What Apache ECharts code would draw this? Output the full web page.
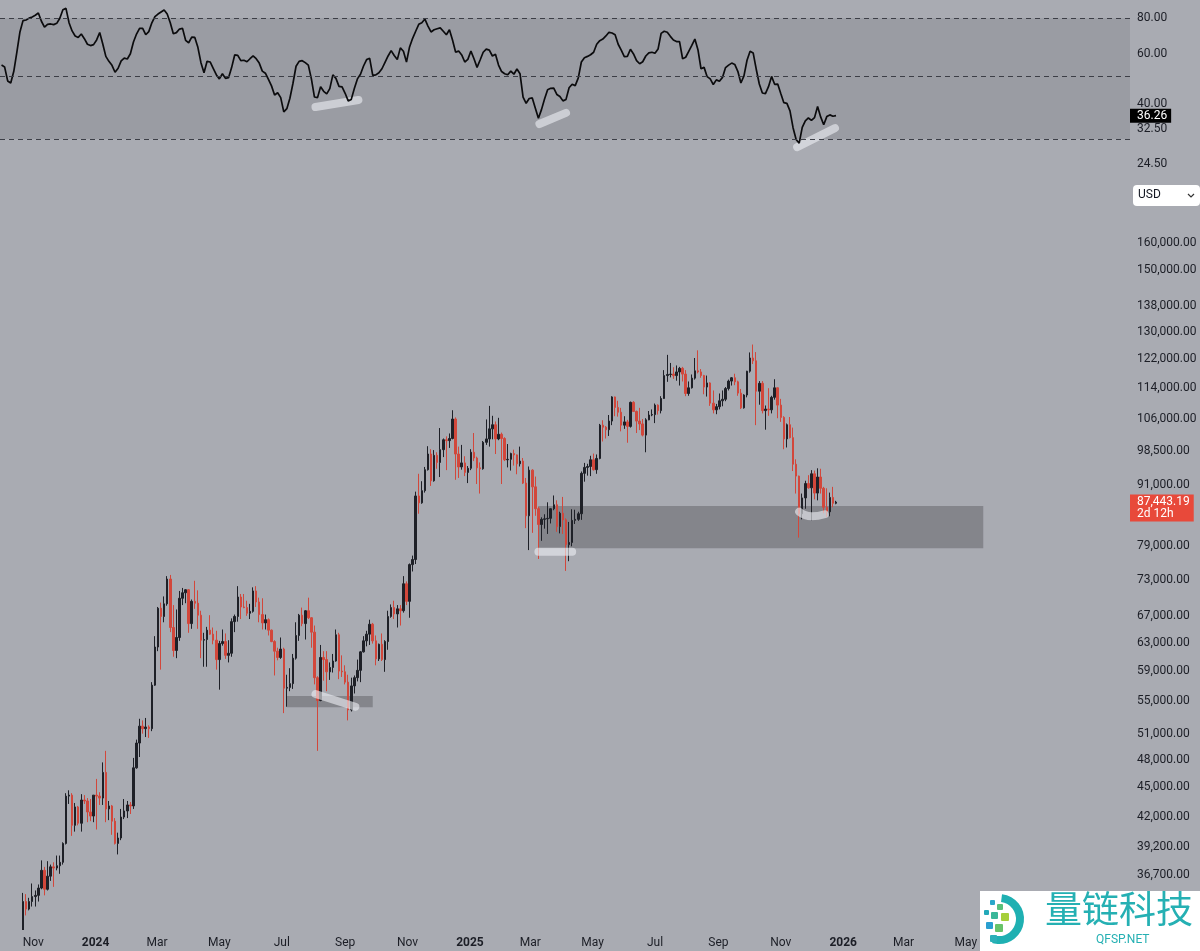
<!DOCTYPE html>
<html>
<head>
<meta charset="utf-8">
<script src="https://cdn.jsdelivr.net/npm/echarts@6/dist/echarts.min.js"></script>
<style>
html,body{margin:0;padding:0;background:#a9abb2;}
#chart{width:1200px;height:951px;}
</style>
</head>
<body>
<div id="chart"></div>
<script>
// ---------------- DATA ----------------
const axisStart = '2023-09-30';
const axisEnd = '2026-10-08';
const firstCandle = '2023-10-01';
const candleStepDays = 3;
const monthNames = ['Jan','Feb','Mar','Apr','May','Jun','Jul','Aug','Sep','Oct','Nov','Dec'];

// 3-day candles: [open, close, low, high]
const ohlc = [
[26970,27420,26950,28580],[27420,27950,27200,28250],[27950,27600,27300,28000],[27600,26750,26550,27700],[26750,27150,26650,27250],
[27150,28400,27100,30000],[28400,29900,28300,30200],[29900,34500,29700,35200],[34500,33900,33400,35100],[33900,34500,33800,34800],
[34500,34900,34100,35980],[34900,35000,34100,35400],[35000,35600,34500,35900],[35600,37100,35500,37970],[37100,35500,35000,37400],
[35500,36600,35400,37900],[36600,37400,36200,37600],[37400,37300,35700,37800],[37300,37500,37100,38400],[37500,37800,36800,38400],
[37800,39500,37600,39600],[39500,44100,39400,44400],[44100,44200,43300,44700],[44200,41200,40200,44400],[41200,43000,40600,43400],
[43000,41400,41200,43100],[41400,43700,40600,44300],[43700,43600,43300,44200],[43600,42500,41500,43900],[42500,42100,41600,43800],
[42100,44200,41500,44200],[44200,44100,40800,45900],[44100,43900,43200,44500],[43900,46600,43200,47700],[46600,42800,41500,49000],
[42800,43100,41700,43600],[43100,41600,40300,43200],[41600,39500,39400,41900],[39500,40000,38500,40500],[40000,42000,39800,42800],
[42000,42600,41800,43800],[42600,43200,41900,43600],[43200,43100,42300,43500],[43100,47100,42800,48200],[47100,49900,47000,50300],
[49900,51900,48300,52800],[51900,51600,51000,52600],[51600,51800,50600,52900],[51800,51600,50500,52000],[51600,57100,51300,57500],
[57100,62400,57000,64000],[62400,68300,61800,68500],[68300,67000,59200,69200],[67000,69000,66100,70200],[69000,73100,68700,73600],
[73100,65300,64600,73800],[65300,61900,61000,68800],[61900,63800,60800,68100],[63800,69900,63300,71100],[69900,70800,68800,71600],
[70800,71300,69100,71400],[71300,65900,64500,71400],[65900,69400,65100,69700],[69400,69100,68200,72800],[69100,67200,65100,71200],
[67200,63400,60800,67900],[63400,63500,59600,64500],[63500,64900,59600,65400],[64900,64300,64200,67200],[64300,63400,62800,65300],
[63400,60600,59200,64800],[60600,62900,56500,63300],[62900,63200,62600,65000],[63200,61200,60700,64400],[61200,61500,60200,63400],
[61500,66200,61000,66700],[66200,67000,64600,67300],[67000,70100,66200,71900],[70100,68500,66600,70600],[68500,68400,68300,70600],
[68400,67500,67100,69500],[67500,67800,66600,69000],[67800,71100,67600,71700],[71100,69300,68500,71900],[69300,67300,66100,70000],
[67300,66000,65000,69900],[66000,66500,65000,67300],[66500,64900,64100,66700],[64900,63200,63100,65000],[63200,61800,58400,63400],
[61800,60900,60500,62300],[60900,62100,60700,63800],[62100,56700,53500,62300],[56700,56800,54300,58500],[56800,57300,56300,59400],
[57300,60800,56600,61400],[60800,64100,60600,66100],[64100,67200,63300,67400],[67200,65900,65500,68400],[65900,67900,63500,68000],
[67900,66800,66600,70000],[66800,64600,62300,66900],[64600,58100,57200,65600],[58100,55100,49000,58300],[55100,60900,55000,62700],
[60900,60600,57700,61800],[60600,58900,56300,61800],[58900,59500,57800,60200],[59500,60400,58800,61400],[60400,64200,60300,65000],
[64200,59000,57900,64500],[59000,58900,58200,61200],[58900,57500,57200,59800],[57500,53900,52600,58500],[53900,57000,53700,58100],
[57000,58100,56000,58400],[58100,59100,57600,60600],[59100,61700,57500,61800],[61700,63300,61600,64000],[63300,64300,62500,64800],
[64300,65800,62700,66500],[65800,63300,62900,66000],[63300,60700,59800,64100],[60700,62800,60400,62900],[62800,60600,60400,64400],
[60600,63200,58900,63400],[63200,67000,62000,67900],[67000,68400,66800,68900],[68400,67400,66600,69500],[67400,68200,65300,68800],
[68200,67900,65600,68800],[67900,72300,67600,73600],[72300,69400,68800,72700],[69400,75600,66800,75800],[75600,76500,74400,77200],
[76500,88700,75700,89600],[88700,87300,85100,93400],[87300,89800,87100,91800],[89800,94300,89400,94900],[94300,97800,94100,99600],
[97800,91900,90800,98900],[91900,97500,91700,98700],[97500,95900,94500,98200],[95900,98800,92700,103900],[98800,101100,97100,101400],
[101100,100900,94200,101900],[100900,101400,99200,102600],[101400,106100,101200,108300],[106100,97800,92100,106500],[97800,94900,92500,99500],
[94900,95800,94300,99900],[95800,93700,92900,97300],[93700,94600,91400,95100],[94600,98200,94200,98900],[98200,96900,96200,102700],
[96900,94700,91200,97200],[94700,94500,89200,95900],[94500,100500,94300,100800],[100500,101300,99900,106000],[101300,103700,99500,109400],
[103700,104700,101200,106900],[104700,101300,97800,105500],[101300,102400,101000,106400],[102400,101400,91200,102800],[101400,96500,96200,101700],
[96500,96600,94800,100100],[96600,97900,94100,98100],[97900,97600,95200,98800],[97600,95600,93300,97700],[95600,96200,95000,99500],
[96200,91400,91200,96900],[91400,84700,82300,92500],[84700,94200,78200,95000],[94200,90600,81400,94400],[90600,86100,84700,92800],
[86100,83000,76600,86500],[83000,84000,79900,84400],[84000,84100,82200,85000],[84100,84200,81200,87400],[84200,86100,83200,86200],
[86100,86900,85800,88800],[86900,82600,81600,87800],[82600,85200,81300,85500],[85200,83900,81200,88500],[83900,79200,74500,84200],
[79200,79600,76200,83500],[79600,83800,78900,86000],[83800,84000,83100,85900],[84000,85100,83700,85500],[85100,93500,83900,93900],
[93500,94800,91700,95800],[94800,95000,93000,95600],[95000,96500,92900,97400],[96500,94300,94100,97900],[94300,96800,93400,97700],
[96800,104600,96600,104900],[104600,104100,100700,105800],[104100,103500,101400,104400],[103500,105600,102000,107100],[105600,111700,104600,111900],
[111700,109000,106800,111800],[109000,107800,106700,110700],[107800,104600,103100,108900],[104600,105400,103700,106800],[105400,104300,100400,105900],
[104300,110300,104000,110500],[110300,108000,107900,110600],[108000,105600,102700,108200],[105600,104900,103400,108900],[104900,102200,101900,106100],
[102200,105900,98200,106300],[105900,107100,105800,108100],[107100,107200,106800,108500],[107200,109600,105100,110000],[109600,108200,107200,109800],
[108200,111300,107500,111900],[111300,117400,111200,118900],[117400,117700,115700,123200],[117700,117800,116900,120900],[117800,117400,116500,119700],
[117400,118400,116000,120200],[118400,119400,114700,119800],[119400,117800,115800,119800],[117800,112600,111900,118900],[112600,114100,112000,115800],
[114100,116700,113900,117700],[116700,118700,116300,122300],[118700,118400,118000,124500],[118400,117400,116800,119200],[117400,114300,112400,117600],
[114300,115400,111800,117400],[115400,110100,109400,115600],[110100,108400,107500,113400],[108400,109200,107300,109900],[109200,110700,108500,112600],
[110700,111100,109300,113400],[111100,113900,110600,114300],[113900,115900,113400,116300],[115900,116800,114700,117000],[116800,115700,114800,117900],
[115700,112700,112000,116000],[112700,108900,108600,113800],[108900,112200,108700,112400],[112200,118600,111600,118700],[118600,122300,118200,123900],
[122300,121500,120600,126200],[121500,113200,104600,124000],[113200,115300,109700,115900],[115300,108200,107500,115900],[108200,108600,103500,109500],
[108600,108400,106900,114000],[108400,111600,107500,112000],[111600,114100,111000,116400],[114100,109600,106300,114200],[109600,106500,105400,111200],
[106500,101300,98900,106800],[101300,104700,99300,105000],[104700,101600,101400,106600],[101600,95500,94000,104000],[95500,92900,89200,96600],
[92900,85100,80500,93000],[85100,88300,84000,89200],[88300,91300,86100,91900],[91300,90400,90200,93100],[90400,93400,83800,94200],
[93400,89300,88000,94100],[89300,92700,87800,94600],[92700,90300,89200,94500],[90300,86400,85200,90600],[86400,85500,84500,90300],
[85500,88400,84600,89400],[88400,87200,86400,90600],[87200,87443.19,87000,87700]
];

// RSI, one value per candle
const rsi = [
54.7,53.9,48.1,47.3,52.0,60.8,71.6,78.5,78.9,80.1,
80.9,82.0,83.5,78.1,74.5,76.2,76.4,76.0,76.8,80.0,
85.8,86.7,77.2,72.2,69.3,68.5,70.4,67.8,64.8,64.1,
64.6,67.1,71.3,64.9,58.7,56.4,54.6,51.6,53.3,56.6,
57.9,57.5,60.0,66.0,70.4,73.7,73.7,70.0,71.8,77.1,
81.1,82.8,84.2,85.6,82.8,77.1,70.6,71.2,73.3,73.7,
66.9,65.6,68.7,68.5,63.2,55.8,51.4,56.4,56.1,53.3,
50.6,48.9,51.0,49.1,49.4,53.6,59.4,59.2,56.7,56.9,
56.2,57.6,58.9,57.6,55.6,52.1,51.2,48.7,46.2,42.9,
43.7,42.0,37.4,38.4,41.8,47.2,54.2,56.4,56.7,55.8,
54.7,48.9,42.2,42.0,45.9,44.2,43.3,45.2,50.5,49.1,
46.0,45.8,43.5,40.9,41.4,45.2,48.9,50.8,54.3,57.2,
57.8,50.3,50.5,51.4,53.1,55.9,58.9,61.5,59.1,57.2,
62.9,61.2,56.1,63.4,68.0,72.0,76.2,77.2,79.5,75.1,
71.6,72.9,73.5,74.0,72.0,70.0,72.9,67.1,60.8,61.3,
59.4,56.1,57.3,61.3,57.6,53.7,57.0,60.7,62.3,61.8,
58.9,59.7,54.7,51.9,51.0,50.6,52.1,50.8,53.0,51.0,
42.2,40.1,41.7,41.9,38.5,35.5,38.1,41.5,44.8,45.3,
45.4,43.1,42.4,40.9,41.4,45.5,46.8,46.3,49.3,56.1,
58.1,58.7,59.5,60.7,64.8,66.7,67.6,69.3,71.4,71.0,
70.0,64.8,61.8,58.6,58.7,62.2,59.9,56.7,55.3,56.2,
58.9,60.4,60.7,60.2,62.3,70.8,72.0,71.4,69.1,67.1,
66.2,66.2,57.6,58.3,61.2,64.2,67.6,62.0,53.1,53.7,
49.8,48.9,46.7,48.5,48.0,49.5,53.6,54.7,55.6,55.0,
52.0,47.3,50.1,56.9,61.2,60.4,52.9,46.9,43.6,43.4,
45.9,49.9,46.8,46.9,43.4,40.3,40.1,37.7,32.9,29.9,
29.0,33.0,34.8,35.6,34.9,35.7,39.1,35.9,33.7,36.0,
36.5,36.1,36.26
];

const priceTicks = [160000,150000,138000,130000,122000,114000,106000,98500,91000,79000,73000,67000,63000,59000,55000,51000,48000,45000,42000,39200,36700];
const rsiTicks = [80, 60, 40, 32.5, 24.5];
const rsiLevels = [80, 50, 30];
const lastPrice = 87443.19;
const countdown = '2d 12h';
const lastRsi = 36.26;

// price zones [from, to, low, high]
const zones = [
  ['2024-07-06', '2024-09-28', 54220, 55680],
  ['2025-03-09', '2026-05-18', 78530, 86650]
];
// highlight strokes
const priceMarks = [
  [['2024-08-03', 55930], ['2024-09-11', 54300]],
  [['2025-03-09', 77900], ['2025-04-11', 77900]],
  [['2025-11-19', 85500], ['2025-12-01', 84600], ['2025-12-14', 85000]]
];
const rsiMarks = [
  [['2024-08-03', 38.9], ['2024-09-14', 41.2]],
  [['2025-03-10', 33.9], ['2025-04-05', 37.1]],
  [['2025-11-17', 28.1], ['2025-12-24', 32.8]]
];

// ---------------- BUILD ----------------
function addDays(s, n) {
  const d = new Date(s + 'T00:00:00Z');
  d.setUTCDate(d.getUTCDate() + n);
  return d.toISOString().slice(0, 10);
}
const days = [];
for (let i = 0; ; i++) { const s = addDays(axisStart, i); days.push(s); if (s === axisEnd) break; }
const dayIndex = {};
days.forEach((d, i) => { dayIndex[d] = i; });
const candleDates = ohlc.map((_, k) => addDays(firstCandle, candleStepDays * k));

const candleData = ohlc.map((v, k) => [dayIndex[candleDates[k]], v[0], v[1], v[2], v[3]]);
const rsiData = rsi.map((v, k) => [dayIndex[candleDates[k]], v]);

const fmt2 = v => v.toLocaleString('en-US', {minimumFractionDigits: 2, maximumFractionDigits: 2});
const TXT = '#1c1e26';
const FONT = 'Roboto';
const BG = '#a9abb2';

const priceLabelLines = priceTicks.map(v => ({
  yAxis: v,
  lineStyle: {color: 'rgba(0,0,0,0)', width: 0},
  label: {formatter: fmt2(v), color: TXT, fontSize: 12, fontFamily: FONT, distance: 7}
}));
priceLabelLines.push({
  yAxis: lastPrice,
  lineStyle: {color: 'rgba(0,0,0,0)', width: 0},
  label: {formatter: fmt2(lastPrice) + '\n' + countdown, color: '#fff', fontSize: 12, fontFamily: FONT,
    backgroundColor: '#e8493a', padding: [1, 4, 1, 7], lineHeight: 12.5, distance: 0, offset: [0, 6]}
});

const rsiLines = [];
rsiLevels.forEach(v => {
  rsiLines.push({yAxis: v, lineStyle: {color: '#3c3e46', width: 1, type: [5, 4]},
    label: {show: rsiTicks.indexOf(v) >= 0, formatter: fmt2(v), color: TXT, fontSize: 12, fontFamily: FONT, distance: 7}});
});
rsiTicks.filter(v => rsiLevels.indexOf(v) < 0).forEach(v => {
  rsiLines.push({yAxis: v, lineStyle: {color: 'rgba(0,0,0,0)', width: 0},
    label: {formatter: fmt2(v), color: TXT, fontSize: 12, fontFamily: FONT, distance: 7}});
});
rsiLines.push({yAxis: lastRsi, lineStyle: {color: 'rgba(0,0,0,0)', width: 0},
  label: {formatter: fmt2(lastRsi), color: '#fff', fontSize: 12, fontFamily: FONT,
    backgroundColor: '#000', padding: [1, 4, 1, 7], distance: 0}});

const highlightStyle = {color: 'rgba(236,237,242,0.62)', width: 8, cap: 'round', join: 'round'};
const markSeries = [];
priceMarks.forEach(seg => markSeries.push({
  type: 'line', xAxisIndex: 1, yAxisIndex: 1, data: seg.map(p => [dayIndex[p[0]], p[1]]),
  symbol: 'none', smooth: true, lineStyle: highlightStyle, z: 5, silent: true
}));
rsiMarks.forEach(seg => markSeries.push({
  type: 'line', xAxisIndex: 0, yAxisIndex: 0, data: seg.map(p => [dayIndex[p[0]], p[1]]),
  symbol: 'none', lineStyle: highlightStyle, z: 1, silent: true
}));

const chart = echarts.init(document.getElementById('chart'), null, {renderer: 'canvas'});
const option = {
  animation: false,
  backgroundColor: BG,
  grid: [
    {left: 0, right: 70, top: 0, height: 175},
    {left: 0, right: 70, top: 210, bottom: 21}
  ],
  xAxis: [
    {type: 'category', gridIndex: 0, data: days, axisLine: {show: false}, axisTick: {show: false},
     axisLabel: {show: false}, splitLine: {show: false}},
    {type: 'category', gridIndex: 1, data: days, z: 30, axisLine: {show: false}, axisTick: {show: false},
     splitLine: {show: false},
     axisLabel: {
       margin: 7, color: TXT, fontSize: 12, fontFamily: FONT,
       interval: (i, v) => /-(01|03|05|07|09|11)-01$/.test(v),
       formatter: v => { const m = +v.slice(5, 7); return m === 1 ? '{y|' + v.slice(0, 4) + '}' : monthNames[m - 1]; },
       rich: {y: {fontWeight: 'bold', fontSize: 12, color: TXT, fontFamily: FONT}}
     }}
  ],
  yAxis: [
    {type: 'log', logBase: 10, gridIndex: 0, position: 'right', min: 22.40, max: 92.82,
     axisLine: {show: false}, axisTick: {show: false}, axisLabel: {show: false}, splitLine: {show: false}},
    {type: 'log', logBase: 10, gridIndex: 1, position: 'right', min: 32288, max: 172618,
     axisLine: {show: false}, axisTick: {show: false}, axisLabel: {show: false}, splitLine: {show: false}}
  ],
  series: [
    {
      type: 'line', name: 'RSI', xAxisIndex: 0, yAxisIndex: 0, data: rsiData, symbol: 'none',
      lineStyle: {color: '#0b0b0d', width: 1.7}, z: 3, silent: true,
      markArea: {silent: true, itemStyle: {color: '#9a9ca3'}, data: [[{yAxis: 30}, {yAxis: 80}]]},
      markLine: {silent: true, symbol: ['none', 'none'], animation: false, data: rsiLines}
    },
    {
      type: 'candlestick', name: 'BTCUSD', xAxisIndex: 1, yAxisIndex: 1,
      dimensions: ['date', 'open', 'close', 'lowest', 'highest'],
      encode: {x: 0, y: [1, 2, 3, 4]},
      data: candleData, barWidth: 2, clip: true, silent: true,
      itemStyle: {color: '#1e2027', color0: '#d2473b', borderColor: '#1e2027', borderColor0: '#d2473b', borderWidth: 1},
      markArea: {silent: true, itemStyle: {color: 'rgba(80,81,86,0.42)'},
        data: zones.map(z => [{xAxis: dayIndex[z[0]], yAxis: z[2]}, {xAxis: dayIndex[z[1]], yAxis: z[3]}])},
      markLine: {silent: true, symbol: ['none', 'none'], animation: false, data: priceLabelLines}
    }
  ].concat(markSeries),
  graphic: [
    // mask below the price pane (clips candles that run past the bottom edge)
    {type: 'rect', shape: {x: 0, y: 930, width: 1130, height: 21}, style: {fill: BG}, z: 20, silent: true},
    {type: 'rect', left: 1133, top: 185, shape: {width: 67, height: 21, r: 4}, style: {fill: '#ffffff'}, z: 40},
    {type: 'text', left: 1138, top: 189, style: {text: 'USD', fill: '#131722', font: '12px Roboto'}, z: 41},
    {type: 'polyline', shape: {points: [[1188, 194], [1191, 197], [1194, 194]]}, style: {stroke: '#333', lineWidth: 1.2, fill: null}, z: 41},
    {type: 'rect', shape: {x: 980, y: 891, width: 220, height: 60}, style: {fill: '#ffffff'}, z: 40},
    {type: 'arc', shape: {cx: 999, cy: 919, r: 21, startAngle: -1.45, endAngle: 1.85, clockwise: true},
     style: {stroke: '#1fb0b2', lineWidth: 8, fill: null}, z: 41},
    {type: 'rect', shape: {x: 990, y: 900, width: 5, height: 5, r: 1}, style: {fill: '#2aa7c9'}, z: 41},
    {type: 'rect', shape: {x: 997, y: 904, width: 6, height: 6, r: 1}, style: {fill: '#59c07a'}, z: 41},
    {type: 'rect', shape: {x: 984, y: 910, width: 5, height: 5, r: 1}, style: {fill: '#22a9b9'}, z: 41},
    {type: 'rect', shape: {x: 991, y: 912, width: 7, height: 7, r: 1}, style: {fill: '#3ab79a'}, z: 41},
    {type: 'rect', shape: {x: 1001, y: 913, width: 8, height: 8, r: 1}, style: {fill: '#a6cf3a'}, z: 41},
    {type: 'rect', shape: {x: 986, y: 922, width: 7, height: 7, r: 1}, style: {fill: '#2a9fd0'}, z: 41},
    {type: 'rect', shape: {x: 995, y: 924, width: 8, height: 8, r: 1}, style: {fill: '#67c36a'}, z: 41},
    {type: 'rect', shape: {x: 990, y: 935, width: 7, height: 7, r: 1}, style: {fill: '#2bb0b8'}, z: 41},
    {type: 'text', left: 1045, top: 890, style: {text: '量链科技', fill: '#25b0b3', font: '37px "Noto Sans CJK SC"'}, z: 41},
    {type: 'text', left: 1096, top: 934, style: {text: 'QFSP.NET', fill: '#25b0b3', font: '12px Roboto'}, z: 41}
  ]
};
chart.setOption(option);
</script>
</body>
</html>
